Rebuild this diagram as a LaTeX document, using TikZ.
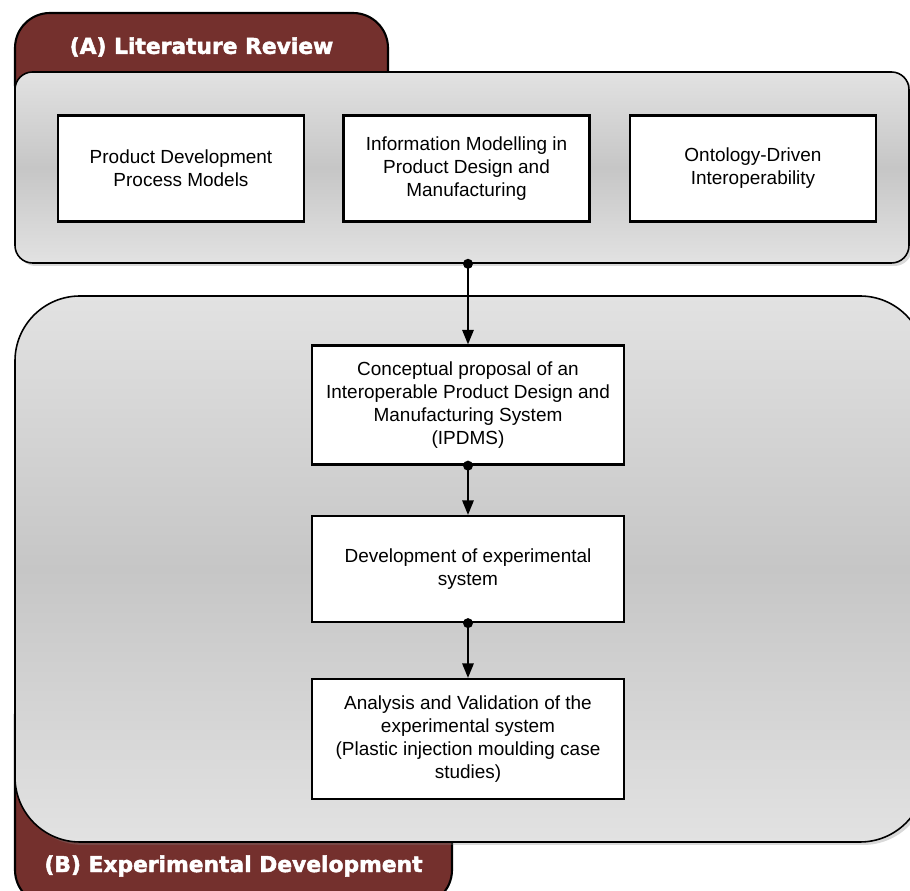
\documentclass[tikz,border=0pt]{standalone}
\usepackage{fontspec}
\setmainfont{Liberation Sans}
\newfontfamily\tabfont[FakeBold=2.2]{DejaVu Sans Bold}
\usepackage{tikz}
\usepackage{xcolor}
\usetikzlibrary{
    arrows.meta,
    shadows,
    positioning
}
\definecolor{tabred}{HTML}{74302D}
\definecolor{panellight}{HTML}{E2E2E2}
\definecolor{paneldark}{HTML}{C6C6C6}

\begin{document}
\begin{tikzpicture}[
    tabbox/.style={draw=black, line width=1.2pt, fill=tabred, rounded corners=0.7cm},
    tabtext/.style={text=white, font=\tabfont\fontsize{12.4}{14}\selectfont},
    panel/.style={draw=black, line width=0.9pt, top color=panellight, bottom color=panellight, middle color=paneldark,
        drop shadow={shadow xshift=0.6mm, shadow yshift=-0.6mm, opacity=0.3}},
    stepbox/.style={draw=black, line width=1.3pt, fill=white, align=center,
        font=\fontsize{10.8}{13.1}\selectfont},
    flow/.style={line width=0.9pt, -{Triangle[length=2.9mm, width=2.3mm]}}
]
                                    \useasboundingbox (0, 0) rectangle (18.2, -17.82);
                                    \node[tabbox, minimum width=7.46cm, minimum height=2.14cm] (taba) at (4.03, -1.33) {};
                                    \node[tabtext] (tabatxt) at (4.03, -0.94) {(A) Literature Review};
                                    \node[panel, rounded corners=0.35cm, minimum width=17.88cm, minimum height=3.82cm] (lit) at (9.24, -3.35) {};
                                    \node[stepbox, minimum width=4.92cm, minimum height=2.12cm] (pdp) at (3.62, -3.37) {Product Development\\Process Models};
                                    \node[stepbox, minimum width=4.92cm, minimum height=2.12cm] (info) at (9.33, -3.37) {Information Modelling in\\Product Design and\\Manufacturing};
                                    \node[stepbox, minimum width=4.92cm, minimum height=2.12cm] (onto) at (15.06, -3.37) {Ontology-Driven\\Interoperability};
                                    \node[tabbox, minimum width=8.74cm, minimum height=4.5cm] (tabb) at (4.67, -15.85) {};
                                    \node[panel, rounded corners=1.3cm, minimum width=18.2cm, minimum height=10.92cm] (exp) at (9.4, -11.38) {};
                                    \node[tabtext] (tabbtxt) at (4.67, -17.32) {(B) Experimental Development};
                                    \node[stepbox, minimum width=6.24cm, minimum height=2.38cm] (ipdms) at (9.36, -8.1) {Conceptual proposal of an\\Interoperable Product Design and\\Manufacturing System\\(IPDMS)};
                                    \node[stepbox, minimum width=6.24cm, minimum height=2.12cm] (devsys) at (9.36, -11.38) {Development of experimental\\system};
                                    \node[stepbox, minimum width=6.24cm, minimum height=2.4cm] (valid) at (9.36, -14.78) {Analysis and Validation of the\\experimental system\\(Plastic injection moulding case\\studies)};
                                    \coordinate (litout) at (lit.south -| ipdms.north);
                                    \draw[flow] (litout) -- (ipdms);
                                    \draw[flow] (ipdms.south) -- (devsys);
                                    \draw[flow] (devsys.south) -- (valid);
                                    \fill (litout) circle (0.1);
                                    \fill (ipdms.south) circle (0.1);
                                    \fill (devsys.south) circle (0.1);
                                \end{tikzpicture}
\end{document}
